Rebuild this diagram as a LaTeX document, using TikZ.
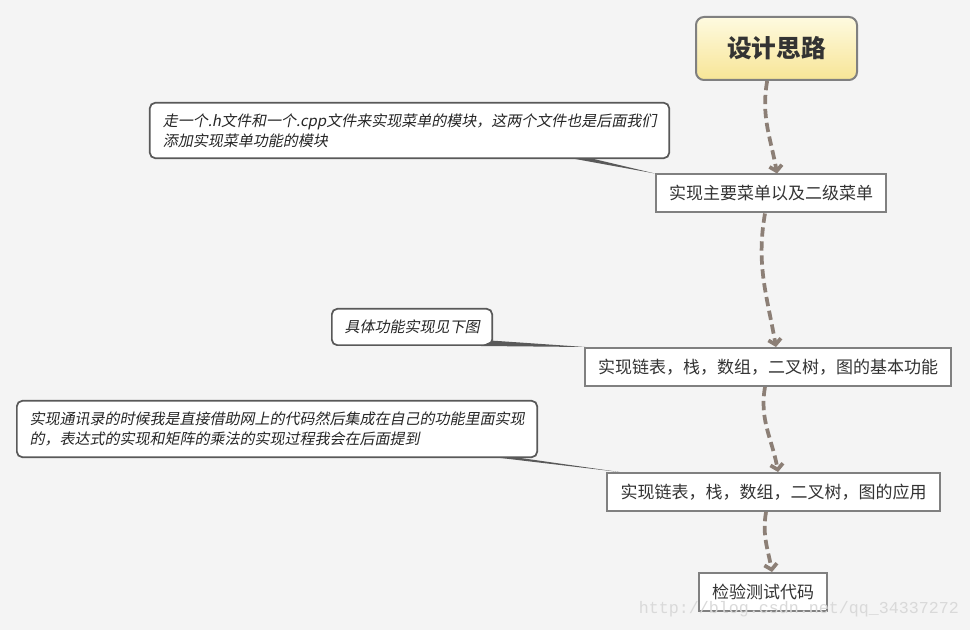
\documentclass[tikz,border=0pt]{standalone}
\usepackage{fontspec}
\setmainfont{Noto Sans CJK SC}
\newfontfamily\noteit[FakeSlant=0.2]{Noto Sans CJK SC}
\newfontfamily\wmfont{Liberation Mono}
\usetikzlibrary{arrows.meta}
\definecolor{bggray}{HTML}{F4F4F4}
\definecolor{boxline}{HTML}{808080}
\definecolor{noteline}{HTML}{595959}
\definecolor{flowcol}{HTML}{8C7F76}
\definecolor{titletop}{HTML}{FEFAE0}
\definecolor{titlebot}{HTML}{F7E596}
\definecolor{txt}{HTML}{333333}
\definecolor{wmgray}{HTML}{D9D9D9}

\begin{document}
\begin{tikzpicture}[x=0.75pt,y=-0.75pt,
    title/.style={draw=boxline,line width=1.5pt,rounded corners=6pt,
        top color=titletop,bottom color=titlebot,
        minimum width=120.75pt,minimum height=47.25pt,
        font=\fontsize{18.5}{22}\selectfont\bfseries,text=txt},
    topic/.style={draw=boxline,line width=1.5pt,fill=white,
        minimum height=28.5pt,font=\fontsize{12.75}{15}\selectfont,text=txt},
    note/.style={draw=noteline,line width=1.3pt,fill=white,rounded corners=4pt,
        align=left,font=\fontsize{11.25}{15}\selectfont\noteit,text=black!85},
    flowline/.style={draw=flowcol,line width=2.8pt,dash pattern=on 7pt off 3.5pt,
        -{Straight Barb[length=4pt,width=9.5pt]}}]
    \fill[bggray] (0,0) rectangle (970,630);
    % main path
    \node[title] (title) at (776.5,48.5) {设计思路};
    \node[topic,minimum width=172.5pt] (b2) at (771,193.5) {实现主要菜单以及二级菜单};
    \node[topic,minimum width=274.5pt] (b3) at (768,367) {实现链表，栈，数组，二叉树，图的基本功能};
    \node[topic,minimum width=249.75pt] (b4) at (773.5,492) {实现链表，栈，数组，二叉树，图的应用};
    \node[topic,minimum width=96pt] (b5) at (763,592) {检验测试代码};
    \draw[flowline] ([xshift=-7pt]title.south) to[out=-100,in=100] ([xshift=4.5pt]b2.north);
    \draw[flowline] ([xshift=-4.5pt]b2.south) to[out=-100,in=100] ([xshift=6pt]b3.north);
    \draw[flowline] ([xshift=-2.25pt]b3.south) to[out=-100,in=100] ([xshift=3.4pt]b4.north);
    \draw[flowline] ([xshift=-5.6pt]b4.south) to[out=-100,in=100] ([xshift=6.75pt]b5.north);
    % notes
    \node[note,minimum width=389.5pt,minimum height=41.5pt] (n1) at (409.5,130.5)
        {走一个.h文件和一个.cpp文件来实现菜单的模块，这两个文件也是后面我们\\添加实现菜单功能的模块};
    \node[note,minimum width=120.2pt,minimum height=27.2pt] (n2) at (412,327)
        {具体功能实现见下图};
    \node[note,minimum width=390.2pt,minimum height=42.2pt] (n3) at (277,429)
        {实现通讯录的时候我是直接借助网上的代码然后集成在自己的功能里面实现\\的，表达式的实现和矩阵的乘法的实现过程我会在后面提到};
    \fill[noteline] ([xshift=-71pt]n1.south east) -- ([xshift=-57pt]n1.south east) -- (b2.north west) -- cycle;
    \fill[noteline] ([xshift=-9pt]n2.south east) -- ([yshift=4pt]n2.south east) -- ([xshift=1pt]b3.north west) -- cycle;
    \fill[noteline] ([xshift=-28pt]n3.south east) -- ([xshift=-13pt]n3.south east) -- ([xshift=10pt]b4.north west) -- cycle;
    \node[text=wmgray,font=\fontsize{12.5}{14}\selectfont\wmfont] (wm) at (799,609)
        {http://blog.csdn.net/qq\_34337272};
\end{tikzpicture}
\end{document}
